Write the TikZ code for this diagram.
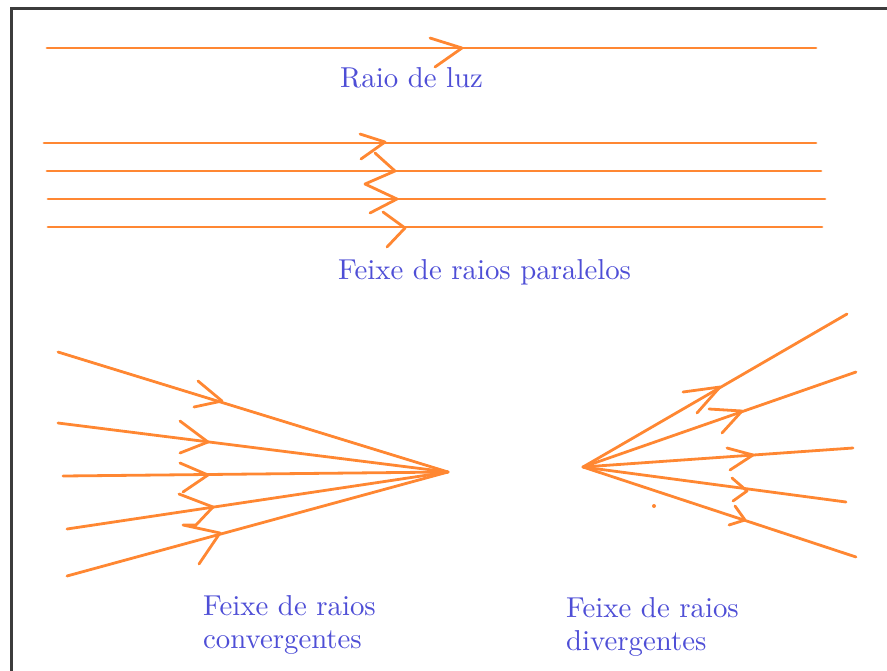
\documentclass[tikz,border=0pt]{standalone}
\usepackage{fontspec}
\setmainfont{lmroman10-regular.otf}
\definecolor{ray}{RGB}{255,135,50}
\definecolor{lbl}{RGB}{78,78,214}
\definecolor{frame}{RGB}{60,60,60}
\begin{document}
\begin{tikzpicture}[x=1pt,y=-1pt,
  rayline/.style={draw=ray,line width=2.8pt,line cap=round,line join=round},
  head/.style={draw=ray,line width=2.8pt,line cap=round,line join=round},
  lab/.style={text=lbl,inner sep=0pt,font=\fontsize{28.8}{34.5}\selectfont,anchor=base west},
  framel/.style={draw=frame,line width=3pt}]
\useasboundingbox (0,0) rectangle (887,670);
% frame
\coordinate (fb) at (11,672);
\coordinate (fc) at (11,8);
\coordinate (fr) at (889,8);
\draw[framel] (fb) -- (fc) -- (fr);

% single ray
\coordinate (r0a) at (47,48); \coordinate (r0b) at (816,48);
\draw[rayline] (r0a) -- (r0b);
\draw[head] (430,38) -- (462,48) -- (435,67);
\node[lab] (t0) at (340,87) {Raio de luz};

% parallel rays
\coordinate (p1a) at (44,143); \coordinate (p1b) at (816,143);
\coordinate (p2a) at (47,171); \coordinate (p2b) at (821,171);
\coordinate (p3a) at (48,199); \coordinate (p3b) at (825,199);
\coordinate (p4a) at (48,227); \coordinate (p4b) at (822,227);
\foreach \i in {1,2,3,4}{\draw[rayline] (p\i a) -- (p\i b);}
\draw[head] (360,134) -- (385,142) -- (361,159);
\draw[head] (375,153) -- (395,171) -- (365,184) -- (397,199) -- (370,213);
\draw[head] (383,212) -- (405,228) -- (387,247);
\node[lab] (t1) at (338,279) {Feixe de raios paralelos};

% convergent rays
\coordinate (cf) at (448,472);
\coordinate (c1) at (58,352);
\coordinate (c2) at (58,423);
\coordinate (c3) at (63,476);
\coordinate (c4) at (67,529);
\coordinate (c5) at (67,576);
\foreach \i in {1,...,5}{\draw[rayline] (c\i) -- (cf);}
\draw[head] (198,381) -- (222,401) -- (194,407);
\draw[head] (180,421) -- (208,442) -- (180,453);
\draw[head] (180,463) -- (208,475) -- (183,492);
\draw[head] (179,494) -- (213,507) -- (196,525) -- (183,525) -- (220,533) -- (199,564);
\node[lab] (t2) at (203,615) {Feixe de raios};
\node[lab] (t3) at (203,648) {convergentes};

% divergent rays
\coordinate (ds) at (583,467);
\coordinate (d1) at (847,314);
\coordinate (d2) at (856,372);
\coordinate (d3) at (853,448);
\coordinate (d4) at (846,502);
\coordinate (d5) at (856,557);
\foreach \i in {1,...,5}{\draw[rayline] (ds) -- (d\i);}
\draw[head] (683,392) -- (720,387) -- (697,413);
\draw[head] (709,409) -- (742,411) -- (722,433);
\draw[head] (727,448) -- (753,455) -- (730,470);
\draw[head] (732,478) -- (747,491) -- (733,501);
\draw[head] (735,506) -- (745,520) -- (729,525);
\fill[ray] (654,506) circle (2);
\node[lab] (t4) at (566,617) {Feixe de raios};
\node[lab] (t5) at (566,650) {divergentes};
\end{tikzpicture}
\end{document}
